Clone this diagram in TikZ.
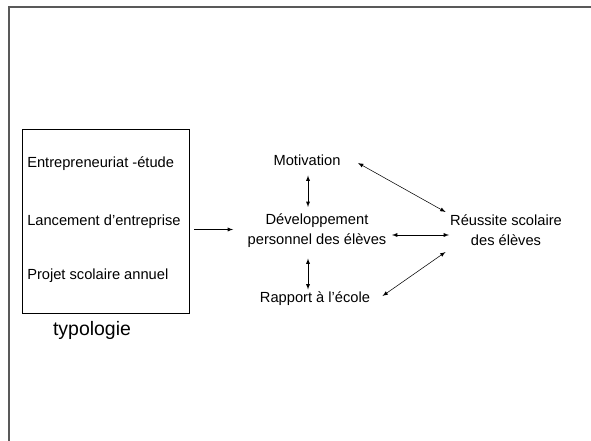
\documentclass[tikz,border=0pt]{standalone}
\usepackage{fontspec}
\setmainfont{Liberation Sans}
\usetikzlibrary{arrows}

\begin{document}
\begin{tikzpicture}[x=0.75pt,y=-0.75pt,
    txt/.style={inner sep=0pt,font=\fontsize{11}{15}\selectfont},
    lnk/.style={latex-latex,thin}]
      \useasboundingbox (0,0) rectangle (591,441);
%      \draw[help lines] (0,0) grid (591,441);

      % page frame
      \draw[gray!70!black,line width=1.5pt] (8.5,441) -- (8.5,7.5) -- (591,7.5);

      % typologie
      \draw (22,129) rectangle (189,313);
      \node[txt,right] (etude)  at (27,164) {Entrepreneuriat -étude};
      \node[txt,right] (lanc)   at (27,222) {Lancement d'entreprise};
      \node[txt,right] (projet) at (27,276) {Projet scolaire annuel};
      \node[inner sep=0pt,font=\fontsize{14.6}{16}\selectfont] (typo) at (92,330) {typologie};

      \coordinate (boxout) at (194,229.5);
      \coordinate (devin)  at (233,229.5);
      \draw[-latex] (boxout) -- (devin);

      % effets
      \node[txt] (motiv)   at (307,160) {Motivation};
      \node[txt,align=center] (dev) at (317,230.5) {Développement\\personnel des élèves};
      \node[txt] (rapport) at (315,298.5) {Rapport à l'école};
      \node[txt,align=center] (reuss) at (506,230.5) {Réussite scolaire\\des élèves};

      \draw[lnk] (308,175.5) -- (308,207);
      \draw[lnk] (308,258.5) -- (308,289.5);
      \draw[lnk] (392,235) -- (449,235);
      \draw[lnk] (358,163) -- (445.5,212);
      \draw[lnk] (382.5,296) -- (445.5,252);
\end{tikzpicture}
\end{document}
